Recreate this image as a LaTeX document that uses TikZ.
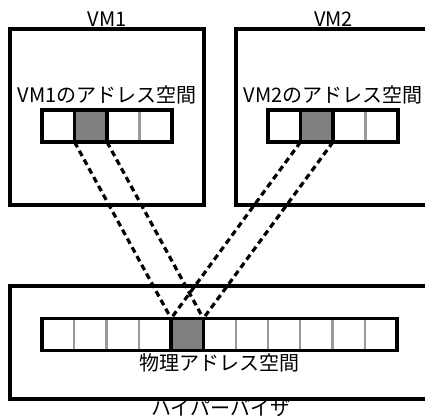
\documentclass[tikz,border=0pt]{standalone}
\usepackage{fontspec}
\setmainfont{Noto Sans CJK JP}
\usepackage{tikz}
\usetikzlibrary{positioning}
\definecolor{cellgray}{HTML}{808080}
\definecolor{dividergray}{HTML}{9A9A9A}

\begin{document}
\begin{tikzpicture}[
    x=1pt, y=-1pt,
    frameBox/.style={rectangle, draw=black, line width=3.4pt, outer sep=0pt, inner sep=0pt},
    cellBox/.style={rectangle, draw=dividergray, line width=2.2pt, fill=white, outer sep=0pt, inner sep=0pt, minimum height=32pt},
    usedCell/.style={rectangle, draw=black, line width=3.4pt, fill=cellgray, outer sep=0pt, inner sep=0pt, minimum height=32pt},
    arrayBox/.style={rectangle, draw=black, line width=3.4pt, outer sep=0pt, inner sep=0pt, minimum height=32pt},
    boxLabel/.style={font=\fontsize{20}{22}\selectfont, inner sep=0pt, anchor=base},
    mapLine/.style={draw=black, line width=3.2pt, dash pattern=on 6pt off 4pt}
]
    \useasboundingbox (0,0) rectangle (425,419);

    % machines
    \node[frameBox, minimum width=194pt, minimum height=176pt] (vm1) at (107,117) {};
    \node[frameBox, minimum width=195pt, minimum height=176pt] (vm2) at (333.5,117) {};
    \node[frameBox, minimum width=421pt, minimum height=113pt] (hyp) at (220.5,342.5) {};

    \node[boxLabel] (vm1Name) at ([yshift=2pt]vm1.north) {VM1};
    \node[boxLabel] (vm2Name) at ([yshift=2pt]vm2.north) {VM2};
    \node[boxLabel] (hypName) at ([yshift=-16.5pt]hyp.south) {ハイパーバイザ};

    % VM1 address space
    \foreach \i in {0,2,3}
        \node[cellBox, minimum width=32.5pt] (va\i) at (58.25+32.5*\i,126) {};
    \node[usedCell, minimum width=32.5pt] (va1) at (90.75,126) {};
    \node[arrayBox, minimum width=130pt] (vaFrame) at (107,126) {};
    \node[boxLabel] (vaName) at ([yshift=7pt]vaFrame.north) {VM1のアドレス空間};

    % VM2 address space
    \foreach \i in {0,2,3}
        \node[cellBox, minimum width=32.5pt] (vb\i) at (284.25+32.5*\i,126) {};
    \node[usedCell, minimum width=32.5pt] (vb1) at (316.75,126) {};
    \node[arrayBox, minimum width=130pt] (vbFrame) at (333,126) {};
    \node[boxLabel] (vbName) at ([yshift=7pt]vbFrame.north) {VM2のアドレス空間};

    % physical address space
    \foreach \i in {0,1,2,3,5,6,7,8,9,10}
        \node[cellBox, minimum width=32.27pt] (pa\i) at (58.14+32.27*\i,334.5) {};
    \node[usedCell, minimum width=32.27pt] (pa4) at (187.2,334.5) {};
    \node[arrayBox, minimum width=355pt] (paFrame) at (219.5,334.5) {};
    \node[boxLabel] (paName) at ([yshift=-20pt]paFrame.south) {物理アドレス空間};

    % mappings
    \draw[mapLine] (va1.south west) -- (pa4.north west);
    \draw[mapLine] (va1.south east) -- (pa4.north east);
    \draw[mapLine] (vb1.south west) -- (pa4.north west);
    \draw[mapLine] (vb1.south east) -- (pa4.north east);
\end{tikzpicture}
\end{document}
